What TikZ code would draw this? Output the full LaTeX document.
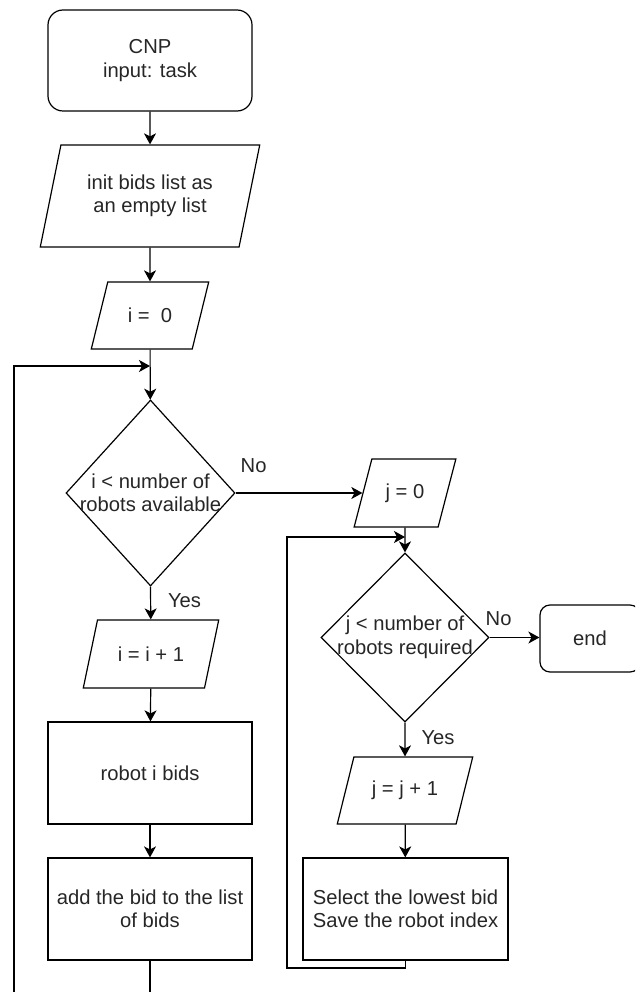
\documentclass[tikz,border=0pt]{standalone}
\usepackage{fontspec}
\setmainfont{Liberation Sans}
\usepackage{tikz}
\usetikzlibrary{arrows.meta,shapes.geometric,positioning,calc}

\begin{document}
\begin{tikzpicture}[x=1pt, y=-1pt, >={Stealth[length=11pt,width=12pt,inset=3pt]},
  line width=1.2pt, font=\fontsize{20.2}{23.5}\selectfont, text=black!85,
  box/.style={draw, rectangle, minimum width=204pt, minimum height=102pt, align=center},
  term/.style={box, rounded corners=#1},
  io/.style={draw, trapezium, trapezium left angle=63.4, trapezium right angle=116.6,
    trapezium stretches=true, inner sep=2pt, align=center},
  cond/.style={draw, diamond, inner sep=0pt, align=center}]
  \useasboundingbox (0,0) rectangle (635,992);
  \clip (0,0) rectangle (635,992);

  % left column
  \node[term=15pt, minimum height=101pt] (start) at (150,60.5) {CNP\\input: task};
  \node[io, trapezium left angle=72, trapezium right angle=108,
    minimum width=220pt, minimum height=102pt] (init) at (150,196) {init bids list as\\an empty list};
  \node[io, minimum width=118pt, minimum height=67pt] (izero) at (150,315.5) {i = \ 0};
  \node[cond, minimum width=169pt, minimum height=186pt] (ichk) at (150.5,493)
    {\makebox[0pt]{i < number of}\\\makebox[0pt]{robots available}};
  \node[io, minimum width=136pt, minimum height=68pt] (iinc) at (151,654) {i = i + 1};
  \node[box] (rbid) at (150,773) {robot i bids};
  \node[box] (addbid) at (150,909) {add the bid to the list\\of bids};

  % right column
  \node[io, minimum width=102pt, minimum height=68pt] (jzero) at (405,493) {j = 0};
  \node[cond, minimum width=168pt, minimum height=169pt] (jchk) at (405,637.5)
    {\makebox[0pt]{j < number of}\\\makebox[0pt]{robots required}};
  \node[term=10pt, minimum width=100pt, minimum height=67pt] (stop) at (590,638.5) {end};
  \node[io, minimum width=136pt, minimum height=67pt] (jinc) at (405,790.5) {j = j + 1};
  \node[box, minimum width=205pt] (select) at (405.5,909) {Select the lowest bid\\Save the robot index};

  \coordinate (iret) at (150,366);
  \coordinate (ilow) at (14,1010);
  \coordinate (jret) at (405,537);
  \coordinate (jlow) at (287,968);

  \draw[->] (start) -- (init);
  \draw[->] (init) -- (izero);
  \draw[->] (izero) -- (ichk);
  \draw[->] (ichk.east) -- node[pos=0, xshift=18pt, yshift=27pt] {No} (jzero.left side);
  \draw[->] (ichk.south) -- node[pos=0, xshift=34pt, yshift=-14pt] {Yes} (iinc);
  \draw[->] (iinc) -- (rbid);
  \draw[->] (rbid) -- (addbid);
  \draw[->] (addbid.south) -- (addbid |- ilow) -- (ilow) |- (iret);

  \draw[->] (jzero) -- (jchk);
  \draw[->] (jchk.east) -- node[pos=0, xshift=9pt, yshift=19pt] {No} (jchk.east -| stop.west);
  \draw[->] (jchk.south) -- node[pos=0, xshift=33pt, yshift=-15pt] {Yes} (jinc);
  \draw[->] (jinc) -- (select);
  \draw[->] (select.south) |- (jlow) |- (jret);
\end{tikzpicture}
\end{document}
